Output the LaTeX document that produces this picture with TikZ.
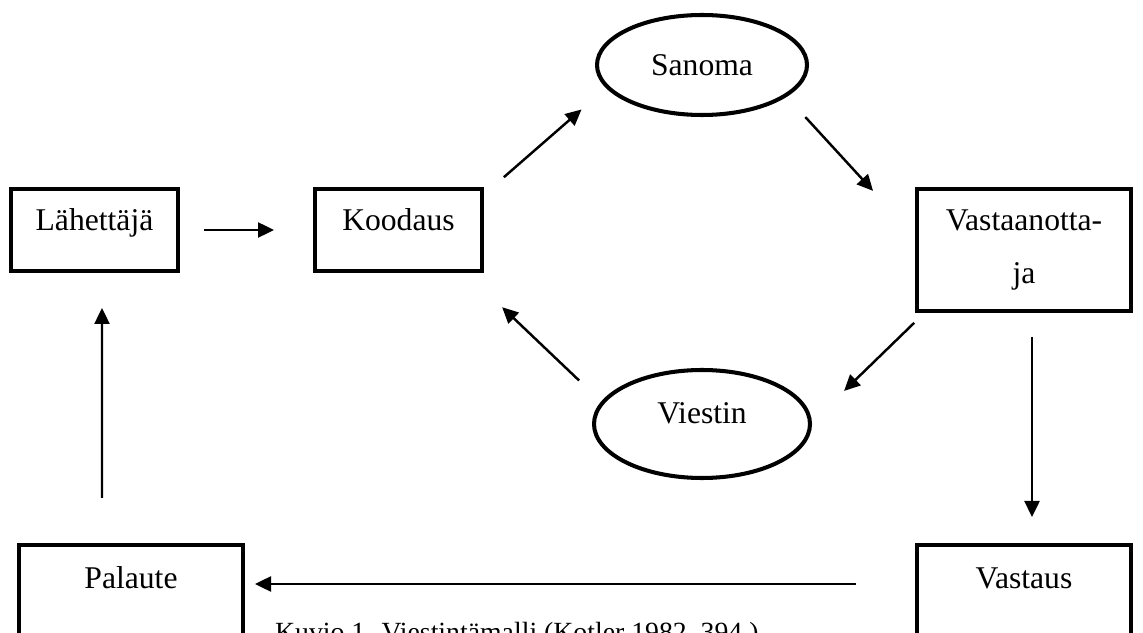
\documentclass[tikz,border=0pt]{standalone}
\usepackage{fontspec}
\setmainfont{Liberation Serif}
\usetikzlibrary{arrows.meta,positioning,shapes.geometric}

\begin{document}
\begin{tikzpicture}[->,>={Triangle[length=0.32cm,width=0.3cm]},
  line width=1.4pt,on grid,
  font=\fontsize{18}{29.6}\selectfont,
  box/.style={rectangle,draw,line width=2.6pt,inner sep=0pt,outer sep=0pt,
    text height=0.84cm,text depth=0.80cm,minimum width=3.34cm},
  oval/.style={ellipse,draw,line width=2.3pt,inner sep=0pt,outer sep=0pt,
    minimum width=4.2cm,minimum height=2cm}]

  \useasboundingbox (0,0) rectangle (22.86,12.64);

  \node[box] (lah) at (1.89,8.04) {Lähettäjä};
  \node[box] (koo) [right=6.08cm of lah] {Koodaus};
  \node[oval] (san) [above right=3.30cm and 6.07cm of koo] {Sanoma};
  \node[oval,minimum width=4.32cm,minimum height=2.16cm,
    text height=0.45cm,text depth=0.45cm] (vie) [below=7.18cm of san] {Viestin};
  \node[box,text width=4.28cm,align=center,text depth=1.60cm]
    (van) [below right=0.40cm and 12.51cm of koo] {Vastaanotta-\\ja};
  \node[box,minimum width=4.28cm,text height=0.86cm,text depth=1.14cm]
    (vas) [below=6.90cm of van] {Vastaus};
  \node[box,minimum width=4.48cm,text height=0.86cm,text depth=1.14cm]
    (pal) [left=17.86cm of vas] {Palaute};
  \node[anchor=base west,font=\fontsize{15.8}{19}\selectfont] (cap) at (5.36,-0.18)
    {Kuvio 1. Viestintämalli (Kotler 1982, 394.)};

  \path
    (lah.east) edge [shorten <=0.52cm,shorten >=0.82cm] (koo.west)
    (koo.22) edge [shorten <=0.58cm,shorten >=0.69cm] (san.193)
    (san.340) edge [shorten <=0.59cm,shorten >=1.30cm] (van.174)
    (van.212) edge [shorten <=0.34cm,shorten >=0.95cm] (vie.east)
    (vie.168) edge [shorten <=0.65cm,shorten >=1.05cm] (koo.328)
    ([xshift=0.16cm]van.south) edge [shorten <=0.52cm,shorten >=0.56cm] ([xshift=0.16cm]vas.north)
    ([yshift=0.22cm]vas.west) edge [shorten <=1.22cm,shorten >=0.24cm] ([yshift=0.22cm]pal.east)
    ([xshift=-0.58cm]pal.north) edge [shorten <=0.94cm,shorten >=0.74cm] ([xshift=0.15cm]lah.south);
\end{tikzpicture}
\end{document}
